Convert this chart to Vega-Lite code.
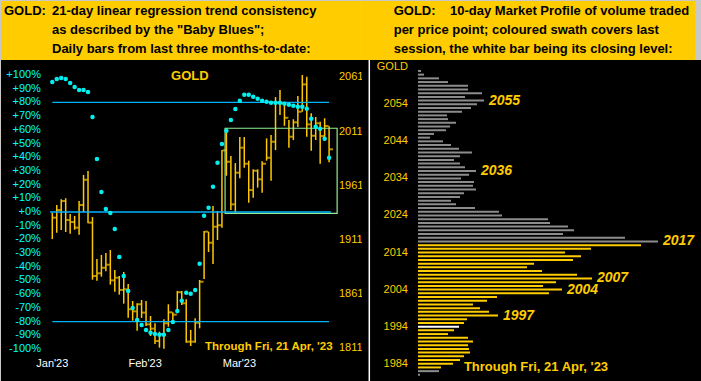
{
  "$schema": "https://vega.github.io/schema/vega-lite/v6.json",
  "padding": {"left": 1, "top": 1, "right": 0, "bottom": 0},
  "background": "#C8C8C8",
  "spacing": 0,
  "bounds": "flush",
  "columns": 2,
  "config": {"view": {"stroke": null}, "font": "Liberation Sans"},
  "datasets": {
    "gold": [
      {"d":1,"h":1936.1,"l":1911.8,"c":1931.5,"bb":94.9},
      {"d":2,"h":1943.2,"l":1917.6,"c":1938.6,"bb":97.1},
      {"d":3,"h":1948.5,"l":1920.1,"c":1946.9,"bb":97.8},
      {"d":4,"h":1949.4,"l":1918.3,"c":1929.4,"bb":97.1},
      {"d":5,"h":1934.9,"l":1916.7,"c":1927.5,"bb":94.2},
      {"d":6,"h":1933.1,"l":1920.4,"c":1922.3,"bb":91.2},
      {"d":7,"h":1946.9,"l":1915.8,"c":1943.2,"bb":89.1},
      {"d":8,"h":1970.9,"l":1936.5,"c":1966.5,"bb":89.1},
      {"d":9,"h":1974.6,"l":1926.3,"c":1926.9,"bb":87.6},
      {"d":10,"h":1932.1,"l":1874.3,"c":1877.7,"bb":69.3},
      {"d":11,"h":1893.4,"l":1873.4,"c":1880.2,"bb":38.7},
      {"d":12,"h":1897.1,"l":1877.1,"c":1885.3,"bb":14.6},
      {"d":13,"h":1898.9,"l":1882.0,"c":1888.1,"bb":2.2},
      {"d":14,"h":1901.7,"l":1869.7,"c":1873.7,"bb":-0.7},
      {"d":15,"h":1883.2,"l":1863.2,"c":1876.1,"bb":-12.4},
      {"d":16,"h":1877.7,"l":1860.5,"c":1864.8,"bb":-32.8},
      {"d":17,"h":1881.4,"l":1852.2,"c":1865.4,"bb":-46.7},
      {"d":18,"h":1870.3,"l":1839.2,"c":1847.0,"bb":-57.7},
      {"d":19,"h":1854.6,"l":1836.5,"c":1845.1,"bb":-70.1},
      {"d":20,"h":1852.5,"l":1827.2,"c":1851.6,"bb":-78.8},
      {"d":21,"h":1855.6,"l":1839.0,"c":1843.9,"bb":-82.5},
      {"d":22,"h":1854.6,"l":1831.6,"c":1833.1,"bb":-86.1},
      {"d":23,"h":1840.8,"l":1822.3,"c":1829.1,"bb":-88.1},
      {"d":24,"h":1834.1,"l":1815.0,"c":1817.7,"bb":-89.1},
      {"d":25,"h":1826.3,"l":1811.6,"c":1824.2,"bb":-89.6},
      {"d":26,"h":1837.8,"l":1810.6,"c":1834.1,"bb":-89.6},
      {"d":27,"h":1851.6,"l":1830.9,"c":1844.2,"bb":-86.1},
      {"d":28,"h":1844.2,"l":1835.9,"c":1842.0,"bb":-80.3},
      {"d":29,"h":1863.9,"l":1843.3,"c":1862.7,"bb":-72.3},
      {"d":30,"h":1863.9,"l":1851.0,"c":1852.5,"bb":-64.7},
      {"d":31,"h":1856.2,"l":1816.2,"c":1817.1,"bb":-58.9},
      {"d":32,"h":1827.9,"l":1813.1,"c":1817.1,"bb":-59.6},
      {"d":33,"h":1838.7,"l":1816.2,"c":1834.6,"bb":-56.9},
      {"d":34,"h":1874.0,"l":1829.4,"c":1872.4,"bb":-37.7},
      {"d":35,"h":1919.2,"l":1874.9,"c":1918.6,"bb":-2.7},
      {"d":36,"h":1918.6,"l":1899.8,"c":1908.4,"bb":3.1},
      {"d":37,"h":1942.3,"l":1888.8,"c":1923.2,"bb":18.5},
      {"d":38,"h":1937.7,"l":1910.9,"c":1924.5,"bb":36.0},
      {"d":39,"h":1993.9,"l":1922.3,"c":1993.6,"bb":49.6},
      {"d":40,"h":2013.9,"l":1970.2,"c":1983.1,"bb":59.3},
      {"d":41,"h":1988.4,"l":1938.6,"c":1943.8,"bb":67.2},
      {"d":42,"h":1981.9,"l":1936.1,"c":1973.0,"bb":75.2},
      {"d":43,"h":2005.9,"l":1967.8,"c":1996.1,"bb":81.2},
      {"d":44,"h":2005.9,"l":1977.6,"c":1981.3,"bb":85.6},
      {"d":45,"h":1984.1,"l":1945.3,"c":1957.0,"bb":85.6},
      {"d":46,"h":1976.1,"l":1950.0,"c":1974.8,"bb":84.2},
      {"d":47,"h":1976.1,"l":1959.2,"c":1966.9,"bb":82.7},
      {"d":48,"h":1983.5,"l":1954.5,"c":1981.3,"bb":81.2},
      {"d":49,"h":2004.7,"l":1984.1,"c":1986.8,"bb":80.5},
      {"d":50,"h":2007.8,"l":1965.6,"c":2001.6,"bb":79.8},
      {"d":51,"h":2042.8,"l":1993.9,"c":2037.6,"bb":79.8},
      {"d":52,"h":2049.3,"l":2026.2,"c":2037.0,"bb":79.8},
      {"d":53,"h":2037.0,"l":2016.3,"c":2023.7,"bb":79.1},
      {"d":54,"h":2021.6,"l":1996.1,"c":2006.2,"bb":78.3},
      {"d":55,"h":2022.3,"l":2003.2,"c":2019.5,"bb":77.6},
      {"d":56,"h":2043.7,"l":2015.2,"c":2029.3,"bb":76.9},
      {"d":57,"h":2063.1,"l":2029.3,"c":2054.5,"bb":76.9},
      {"d":58,"h":2061.6,"l":2006.2,"c":2017.6,"bb":75.4},
      {"d":59,"h":2027.8,"l":1993.3,"c":2007.1,"bb":68.1},
      {"d":60,"h":2024.4,"l":2003.2,"c":2018.6,"bb":62.3},
      {"d":61,"h":2020.0,"l":1981.3,"c":2006.8,"bb":60.8},
      {"d":62,"h":2023.2,"l":2002.5,"c":2016.1,"bb":53.5},
      {"d":63,"h":2015.8,"l":1982.6,"c":1994.6,"bb":39.6}
    ],
    "pctlab": [
      {"pct":100,"lab":"+100%"},{"pct":90,"lab":"+90%"},{"pct":80,"lab":"+80%"},{"pct":70,"lab":"+70%"},
      {"pct":60,"lab":"+60%"},{"pct":50,"lab":"+50%"},{"pct":40,"lab":"+40%"},{"pct":30,"lab":"+30%"},
      {"pct":20,"lab":"+20%"},{"pct":10,"lab":"+10%"},{"pct":0,"lab":"+0%"},{"pct":-10,"lab":"-10%"},
      {"pct":-20,"lab":"-20%"},{"pct":-30,"lab":"-30%"},{"pct":-40,"lab":"-40%"},{"pct":-50,"lab":"-50%"},
      {"pct":-60,"lab":"-60%"},{"pct":-70,"lab":"-70%"},{"pct":-80,"lab":"-80%"},{"pct":-90,"lab":"-90%"},
      {"pct":-100,"lab":"-100%"}
    ],
    "prlab": [
      {"pr":2061,"lab":"2061"},{"pr":2011,"lab":"2011"},{"pr":1961,"lab":"1961"},
      {"pr":1911,"lab":"1911"},{"pr":1861,"lab":"1861"},{"pr":1811,"lab":"1811"}
    ],
    "xlab": [
      {"d":1,"lab":"Jan'23"},{"d":21.8,"lab":"Feb'23"},{"d":42.9,"lab":"Mar'23"}
    ],
    "vplab": [
      {"p":2064,"lab":"GOLD"},{"p":2054,"lab":"2054"},{"p":2044,"lab":"2044"},{"p":2034,"lab":"2034"},
      {"p":2024,"lab":"2024"},{"p":2014,"lab":"2014"},{"p":2004,"lab":"2004"},{"p":1994,"lab":"1994"},
      {"p":1984,"lab":"1984"}
    ],
    "vp": [
      {"p":2063,"v":3,"c":"g"},{"p":2062,"v":6,"c":"g"},{"p":2061,"v":21,"c":"g"},{"p":2060,"v":30,"c":"g"},
      {"p":2059,"v":50,"c":"g"},{"p":2058,"v":50,"c":"g"},{"p":2057,"v":64,"c":"g"},{"p":2056,"v":47,"c":"g"},
      {"p":2055,"v":66,"c":"g","lbl":"2055"},{"p":2054,"v":59,"c":"g"},{"p":2053,"v":53,"c":"g"},{"p":2052,"v":44,"c":"g"},
      {"p":2051,"v":29,"c":"g"},{"p":2050,"v":30,"c":"g"},{"p":2049,"v":38,"c":"g"},{"p":2048,"v":32,"c":"g"},
      {"p":2047,"v":28,"c":"g"},{"p":2046,"v":16,"c":"g"},{"p":2045,"v":12,"c":"g"},{"p":2044,"v":25,"c":"g"},
      {"p":2043,"v":33,"c":"g"},{"p":2042,"v":41,"c":"g"},{"p":2041,"v":54,"c":"g"},{"p":2040,"v":42,"c":"g"},
      {"p":2039,"v":36,"c":"g"},{"p":2038,"v":42,"c":"g"},{"p":2037,"v":47,"c":"g"},{"p":2036,"v":58,"c":"g","lbl":"2036"},
      {"p":2035,"v":51,"c":"g"},{"p":2034,"v":43,"c":"g"},{"p":2033,"v":56,"c":"g"},{"p":2032,"v":55,"c":"g"},
      {"p":2031,"v":58,"c":"g"},{"p":2030,"v":46,"c":"g"},{"p":2029,"v":42,"c":"g"},{"p":2028,"v":33,"c":"g"},
      {"p":2027,"v":38,"c":"g"},{"p":2026,"v":57,"c":"g"},{"p":2025,"v":81,"c":"g"},{"p":2024,"v":84,"c":"g"},
      {"p":2023,"v":130,"c":"g"},{"p":2022,"v":132,"c":"g"},{"p":2021,"v":150,"c":"g"},{"p":2020,"v":156,"c":"g"},
      {"p":2019,"v":145,"c":"g"},{"p":2018,"v":207,"c":"g"},{"p":2017,"v":240,"c":"g","lbl":"2017"},
      {"p":2016,"v":223,"c":"y"},{"p":2015,"v":173,"c":"y"},{"p":2014,"v":147,"c":"y"},{"p":2013,"v":163,"c":"y"},
      {"p":2012,"v":155,"c":"y"},{"p":2011,"v":116,"c":"y"},{"p":2010,"v":109,"c":"y"},{"p":2009,"v":124,"c":"y"},
      {"p":2008,"v":159,"c":"y"},{"p":2007,"v":174,"c":"y","lbl":"2007"},{"p":2006,"v":138,"c":"y"},{"p":2005,"v":125,"c":"y"},
      {"p":2004,"v":144,"c":"y","lbl":"2004"},{"p":2003,"v":131,"c":"y"},{"p":2002,"v":79,"c":"y"},{"p":2001,"v":69,"c":"y"},
      {"p":2000,"v":55,"c":"y"},{"p":1999,"v":62,"c":"y"},{"p":1998,"v":71,"c":"y"},{"p":1997,"v":80,"c":"y","lbl":"1997"},
      {"p":1996,"v":49,"c":"y"},{"p":1995,"v":46,"c":"y"},{"p":1994,"v":41,"c":"w"},{"p":1993,"v":36,"c":"y"},
      {"p":1992,"v":30,"c":"y"},{"p":1991,"v":50,"c":"y"},{"p":1990,"v":55,"c":"y"},{"p":1989,"v":50,"c":"y"},
      {"p":1988,"v":51,"c":"y"},{"p":1987,"v":52,"c":"y"},{"p":1986,"v":46,"c":"y"},{"p":1985,"v":42,"c":"y"},
      {"p":1984,"v":35,"c":"y"},{"p":1983,"v":23,"c":"y"},{"p":1982,"v":21,"c":"g"},{"p":1981,"v":2,"c":"g"}
    ]
  },
  "concat": [
    {
      "width": 360, "height": 59,
      "view": {"fill": "#FFCC00", "stroke": null},
      "data": {"values": [
        {"t": "GOLD:", "col": 4, "line": 1},
        {"t": "21-day linear regression trend consistency", "col": 52, "line": 1},
        {"t": "as described by the \"Baby Blues\";", "col": 52, "line": 2},
        {"t": "Daily bars from last three months-to-date:", "col": 52, "line": 3}
      ]},
      "mark": {"type": "text", "align": "left", "baseline": "middle", "fontSize": 13, "fontWeight": "bold", "color": "#000000"},
      "encoding": {
        "x": {"field": "col", "type": "quantitative", "scale": {"domain": [1, 361], "nice": false, "zero": false}, "axis": null},
        "y": {"field": "line", "type": "quantitative", "scale": {"domain": [0.474, 3.579], "reverse": true, "nice": false, "zero": false}, "axis": null},
        "text": {"field": "t"}
      }
    },
    {
      "width": 333, "height": 59,
      "view": {"fill": "#FFCC00", "stroke": null},
      "data": {"values": [
        {"t": "GOLD:\u00a0\u00a0\u00a0 10-day Market Profile of volume traded", "col": 31.7, "line": 1},
        {"t": "per price point; coloured swath covers last", "col": 31.7, "line": 2},
        {"t": "session, the white bar being its closing level:", "col": 31.7, "line": 3}
      ]},
      "mark": {"type": "text", "align": "left", "baseline": "middle", "fontSize": 13, "fontWeight": "bold", "color": "#000000"},
      "encoding": {
        "x": {"field": "col", "type": "quantitative", "scale": {"domain": [0, 333], "nice": false, "zero": false}, "axis": null},
        "y": {"field": "line", "type": "quantitative", "scale": {"domain": [0.474, 3.579], "reverse": true, "nice": false, "zero": false}, "axis": null},
        "text": {"field": "t"}
      }
    },
    {
      "width": 361, "height": 321,
      "view": {"fill": "#000000", "stroke": null},
      "data": {"name": "gold"},
      "resolve": {"scale": {"y": "independent"}},
      "layer": [
        {
          "layer": [
            {
              "mark": {"type": "rule", "color": "#FFC800", "strokeWidth": 1.5},
              "encoding": {
                "x": {"field": "d", "type": "quantitative", "scale": {"domain": [-10.49, 70.37], "nice": false, "zero": false}, "axis": null},
                "y": {"field": "l", "type": "quantitative", "scale": {"domain": [1780.8, 2077.0], "nice": false, "zero": false}, "axis": null},
                "y2": {"field": "h"}
              }
            },
            {
              "mark": {"type": "tick", "orient": "horizontal", "color": "#FFC800", "size": 3.5, "thickness": 2, "xOffset": 2.2},
              "encoding": {
                "x": {"field": "d", "type": "quantitative", "axis": null},
                "y": {"field": "c", "type": "quantitative", "axis": null}
              }
            },
            {
              "data": {"values": [{"d1": 39.7, "d2": 64.8, "top": 2014.0, "bot": 1935.5}]},
              "mark": {"type": "rect", "fillOpacity": 0, "stroke": "#90EE90", "strokeWidth": 1.2},
              "encoding": {
                "x": {"field": "d1", "type": "quantitative", "axis": null},
                "x2": {"field": "d2"},
                "y": {"field": "bot", "type": "quantitative", "axis": null},
                "y2": {"field": "top"}
              }
            },
            {
              "data": {"name": "prlab"},
              "mark": {"type": "text", "align": "left", "baseline": "middle", "fontSize": 11, "color": "#FFCC00"},
              "encoding": {
                "x": {"datum": 65.2, "type": "quantitative", "axis": null},
                "y": {"field": "pr", "type": "quantitative", "axis": null},
                "text": {"field": "lab"}
              }
            }
          ]
        },
        {
          "layer": [
            {
              "data": {"values": [{"pct": 80, "a": 1, "b": 63}, {"pct": 0, "a": 0.5, "b": 63.4}, {"pct": -80, "a": 1, "b": 63}]},
              "mark": {"type": "rule", "color": "#00B4FF", "strokeWidth": 1.3},
              "encoding": {
                "y": {"field": "pct", "type": "quantitative", "scale": {"domain": [-123.36, 110.95], "nice": false, "zero": false}, "axis": null},
                "x": {"field": "a", "type": "quantitative", "axis": null},
                "x2": {"field": "b"}
              }
            },
            {
              "mark": {"type": "point", "filled": true, "shape": "circle", "color": "#00F0F0", "size": 20, "opacity": 1},
              "encoding": {
                "x": {"field": "d", "type": "quantitative", "axis": null},
                "y": {"field": "bb", "type": "quantitative", "axis": null}
              }
            },
            {
              "data": {"name": "pctlab"},
              "mark": {"type": "text", "align": "right", "baseline": "middle", "fontSize": 11, "color": "#00FFFF"},
              "encoding": {
                "x": {"datum": -1.55, "type": "quantitative", "axis": null},
                "y": {"field": "pct", "type": "quantitative", "axis": null},
                "text": {"field": "lab"}
              }
            },
            {
              "data": {"name": "xlab"},
              "mark": {"type": "text", "align": "center", "baseline": "middle", "fontSize": 11, "color": "#FFFFFF"},
              "encoding": {
                "x": {"field": "d", "type": "quantitative", "axis": null},
                "y": {"datum": -110.9, "type": "quantitative", "axis": null},
                "text": {"field": "lab"}
              }
            },
            {
              "data": {"values": [{"d": 31.8, "pct": 99.3, "t": "GOLD"}]},
              "mark": {"type": "text", "color": "#FFCC00", "fontSize": 13, "fontWeight": "bold", "align": "center", "baseline": "middle"},
              "encoding": {
                "x": {"field": "d", "type": "quantitative", "axis": null},
                "y": {"field": "pct", "type": "quantitative", "axis": null},
                "text": {"field": "t"}
              }
            },
            {
              "data": {"values": [{"d": 49.5, "pct": -98.5, "t": "Through Fri, 21 Apr, '23"}]},
              "mark": {"type": "text", "color": "#FFCC00", "fontSize": 11.5, "fontWeight": "bold", "align": "center", "baseline": "middle"},
              "encoding": {
                "x": {"field": "d", "type": "quantitative", "axis": null},
                "y": {"field": "pct", "type": "quantitative", "axis": null},
                "text": {"field": "t"}
              }
            }
          ]
        }
      ]
    },
    {
      "width": 339, "height": 321,
      "view": {"fill": "#000000", "stroke": null},
      "data": {"name": "vp"},
      "layer": [
        {
          "data": {"values": [{"v": -48.7}]},
          "mark": {"type": "rule", "color": "#FFFFFF", "strokeWidth": 1.5},
          "encoding": {
            "x": {"field": "v", "type": "quantitative", "axis": null}
          }
        },
        {
          "mark": {"type": "rule", "strokeWidth": 2},
          "encoding": {
            "y": {"field": "p", "type": "quantitative", "scale": {"domain": [1979.34, 2065.95], "nice": false, "zero": false}, "axis": null},
            "x": {"field": "v", "type": "quantitative", "scale": {"domain": [-56, 283], "nice": false, "zero": false}, "axis": null},
            "x2": {"datum": 0},
            "color": {"field": "c", "type": "nominal", "scale": {"domain": ["g", "y", "w"], "range": ["#8C8C8C", "#FFCC00", "#FFFFFF"]}, "legend": null}
          }
        },
        {
          "data": {"name": "vplab"},
          "mark": {"type": "text", "align": "right", "baseline": "middle", "fontSize": 11, "color": "#FFCC00"},
          "encoding": {
            "x": {"datum": -10, "type": "quantitative", "axis": null},
            "y": {"field": "p", "type": "quantitative", "axis": null},
            "text": {"field": "lab"}
          }
        },
        {
          "transform": [{"filter": "datum.lbl"}],
          "mark": {"type": "text", "align": "left", "baseline": "middle", "dx": 5, "fontSize": 14, "fontWeight": "bold", "fontStyle": "italic", "color": "#FFCC00"},
          "encoding": {
            "x": {"field": "v", "type": "quantitative", "axis": null},
            "y": {"field": "p", "type": "quantitative", "axis": null},
            "text": {"field": "lbl"}
          }
        },
        {
          "data": {"values": [{"v": 118, "p": 1983.2, "t": "Through Fri, 21 Apr, '23"}]},
          "mark": {"type": "text", "align": "center", "baseline": "middle", "fontSize": 13, "fontWeight": "bold", "color": "#FFCC00"},
          "encoding": {
            "x": {"field": "v", "type": "quantitative", "axis": null},
            "y": {"field": "p", "type": "quantitative", "axis": null},
            "text": {"field": "t"}
          }
        }
      ]
    }
  ]
}
